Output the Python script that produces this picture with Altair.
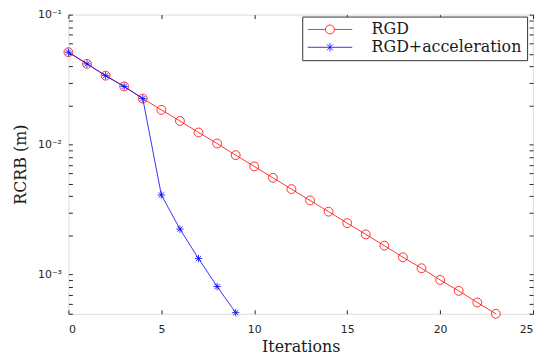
import altair as alt
import pandas as pd

# ---- data ----
iter_rgd = list(range(24))
rcrb_rgd = [0.0514, 0.0418, 0.0339, 0.0280, 0.0226, 0.0185, 0.0152, 0.0124,
            0.0102, 0.0083, 0.0068, 0.00556, 0.00455, 0.00372, 0.00305, 0.00249,
            0.00204, 0.00167, 0.00136, 0.00112, 0.00091, 0.00075, 0.00061, 0.00050]
iter_acc = list(range(10))
rcrb_acc = [0.0514, 0.0418, 0.0339, 0.0280, 0.0226, 0.0041, 0.00224, 0.00133,
            0.00081, 0.00051]
series_names = ["RGD", "RGD+acceleration"]
series_colors = ["#ff0000", "#0000ff"]
x_ticks = [0, 5, 10, 15, 20, 25]
y_major = [0.001, 0.01, 0.1]
y_ticks_all = [0.0005, 0.0006, 0.0007, 0.0008, 0.0009,
               0.001, 0.002, 0.003, 0.004, 0.005, 0.006, 0.007, 0.008, 0.009,
               0.01, 0.02, 0.03, 0.04, 0.05, 0.06, 0.07, 0.08, 0.09, 0.1]

df_rgd = pd.DataFrame({"it": iter_rgd, "rcrb": rcrb_rgd, "series": series_names[0]})
df_acc = pd.DataFrame({"it": iter_acc, "rcrb": rcrb_acc, "series": series_names[1]})
df_all = pd.concat([df_rgd, df_acc], ignore_index=True)

W, H = 469, 302
AX = "#262626"
SANS = "DejaVu Sans"
SERIF = "DejaVu Serif"

xscale = alt.Scale(domain=[0, 25], nice=False, zero=False)
yscale = alt.Scale(type="log", domain=[0.0005, 0.1], nice=False)

# axes
x_label_axis = alt.Axis(values=x_ticks, format="d", ticks=False, tickSize=0, domain=False, grid=False,
                        orient="bottom", labelFont=SANS, labelFontSize=11, labelColor=AX,
                        labelPadding=10, title="Iterations", titleFont=SERIF, titleFontSize=16,
                        titleFontWeight="normal", titleColor="#1a1a1a", titlePadding=4)
y_label_axis = alt.Axis(values=y_major, ticks=False, tickSize=0, domain=False, grid=False,
                        orient="left",
                        labelExpr="datum.value > 0.05 ? '10⁻¹' : (datum.value > 0.005 ? '10⁻²' : '10⁻³')",
                        labelFont=SANS, labelFontSize=11, labelColor=AX, labelPadding=7,
                        title="RCRB (m)", titleFont=SERIF, titleFontSize=16,
                        titleFontWeight="normal", titleColor="#1a1a1a", titlePadding=9)
x_in_bottom = alt.Axis(values=x_ticks, labels=False, tickSize=4, tickColor=AX, domain=False,
                       grid=False, orient="top", offset=-H, title=None)
x_in_top = alt.Axis(values=x_ticks, labels=False, tickSize=4, tickColor=AX, domain=False,
                    grid=False, orient="bottom", offset=-H, title=None)
y_in_left = alt.Axis(values=y_ticks_all, labels=False, tickSize=4, tickColor=AX, domain=False,
                     grid=False, orient="right", offset=-W, title=None)
y_in_right = alt.Axis(values=y_ticks_all, labels=False, tickSize=4, tickColor=AX, domain=False,
                      grid=False, orient="left", offset=-W, title=None)

asterisk = "M-1,0L1,0M0,-1L0,1M-0.72,-0.72L0.72,0.72M-0.72,0.72L0.72,-0.72"
leg_circle = "M-3,0L-0.6,0M0.6,0L3,0M0.6,0A0.6,0.6,0,1,1,-0.6,0A0.6,0.6,0,1,1,0.6,0"
leg_star = "M-3,0L3,0M0,-0.55L0,0.55M-0.4,-0.4L0.4,0.4M-0.4,0.4L0.4,-0.4"

red_line = alt.Chart(df_rgd).mark_line(color=series_colors[0], strokeWidth=0.8).encode(
    x=alt.X("it:Q", scale=xscale, axis=x_label_axis),
    y=alt.Y("rcrb:Q", scale=yscale, axis=y_label_axis),
)
red_pts = alt.Chart(df_rgd).mark_point(shape="circle", size=80, filled=False, opacity=1,
                                       color=series_colors[0], strokeWidth=0.8).encode(
    x=alt.X("it:Q", scale=xscale, axis=x_in_bottom),
    y=alt.Y("rcrb:Q", scale=yscale, axis=y_in_left),
)
blue_line = alt.Chart(df_acc).mark_line(color=series_colors[1], strokeWidth=0.8).encode(
    x=alt.X("it:Q", scale=xscale, axis=x_in_top),
    y=alt.Y("rcrb:Q", scale=yscale, axis=y_in_right),
)
blue_pts = alt.Chart(df_acc).mark_point(shape=asterisk, size=56, filled=False, opacity=1,
                                        color=series_colors[1], strokeWidth=0.8).encode(
    x=alt.X("it:Q", scale=xscale, axis=None),
    y=alt.Y("rcrb:Q", scale=yscale, axis=None),
)

legend = alt.Legend(orient="none", legendX=236, legendY=2, title=None,
                    symbolSize=225, symbolOffset=15, labelOffset=34,
                    symbolStrokeWidth=0.8, labelFont=SERIF, labelFontSize=16,
                    labelColor="#1a1a1a", padding=5, rowPadding=2,
                    strokeColor="#333333", fillColor="white")
legend_layer = alt.Chart(df_all).mark_point(filled=False, opacity=0, size=10).encode(
    x=alt.X("it:Q", scale=xscale, axis=None),
    y=alt.Y("rcrb:Q", scale=yscale, axis=None),
    color=alt.Color("series:N", scale=alt.Scale(domain=series_names, range=series_colors),
                    legend=legend),
    shape=alt.Shape("series:N", scale=alt.Scale(domain=series_names, range=[leg_circle, leg_star]),
                    legend=legend),
)

chart = alt.layer(red_line, red_pts, blue_line, blue_pts, legend_layer).resolve_axis(
    x="independent", y="independent"
).properties(
    width=W, height=H, autosize="none",
    padding={"left": 61, "top": 5, "right": 5, "bottom": 45},
).configure_view(stroke=AX, strokeWidth=1).configure(background="white")

chart.save("out.html", embed_options={"renderer": "svg", "actions": False})
